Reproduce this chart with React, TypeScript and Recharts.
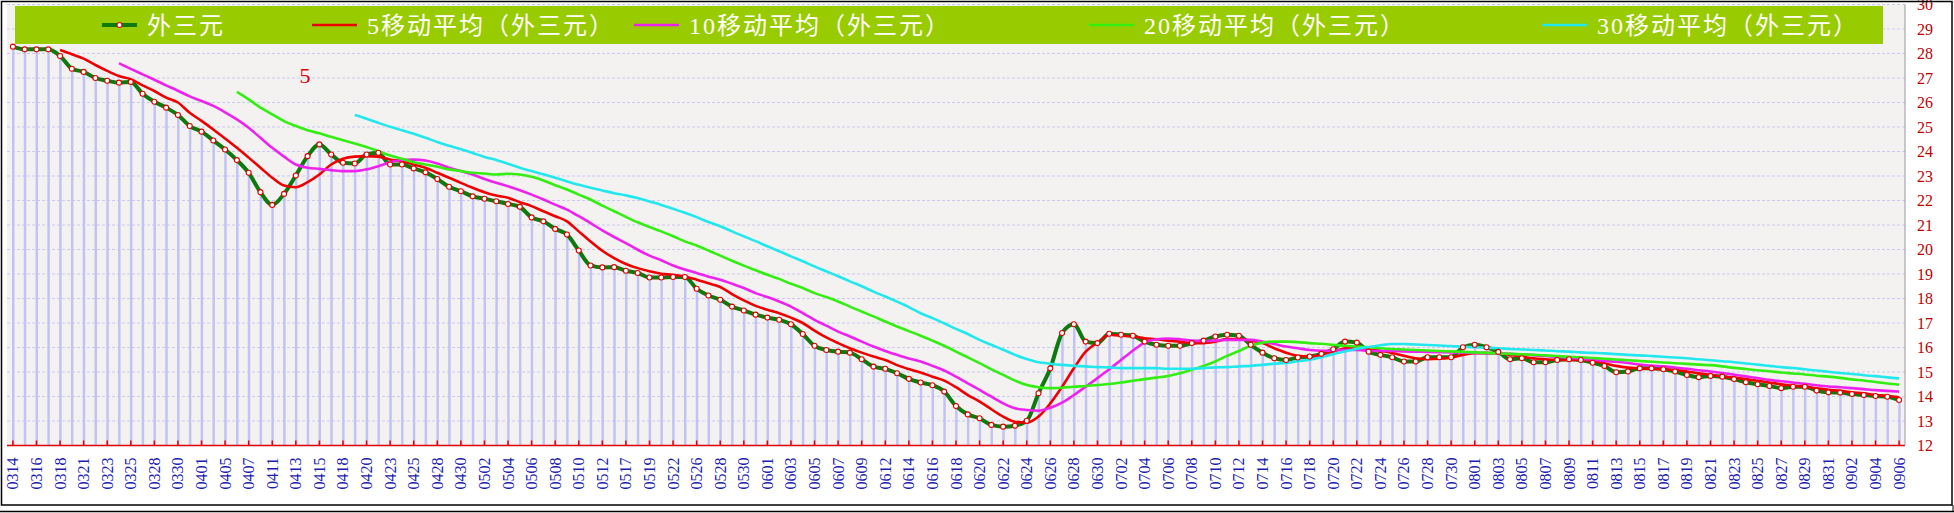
import { ComposedChart, Line, Bar, XAxis, YAxis, CartesianGrid } from 'recharts'

// draw dates (only every other one is printed on the axis)
const dates = [
  '0314', '0315', '0316', '0317', '0318', '0320', '0321', '0322', '0323', '0324',
  '0325', '0327', '0328', '0329', '0330', '0331', '0401', '0403', '0405', '0406',
  '0407', '0410', '0411', '0412', '0413', '0414', '0415', '0417', '0418', '0419',
  '0420', '0422', '0423', '0424', '0425', '0427', '0428', '0429', '0430', '0501',
  '0502', '0503', '0504', '0505', '0506', '0507', '0508', '0509', '0510', '0511',
  '0512', '0515', '0517', '0518', '0519', '0521', '0522', '0524', '0526', '0527',
  '0528', '0529', '0530', '0531', '0601', '0602', '0603', '0604', '0605', '0606',
  '0607', '0608', '0609', '0610', '0612', '0613', '0614', '0615', '0616', '0617',
  '0618', '0619', '0620', '0621', '0622', '0623', '0624', '0625', '0626', '0627',
  '0628', '0629', '0630', '0701', '0702', '0703', '0704', '0705', '0706', '0707',
  '0708', '0709', '0710', '0711', '0712', '0713', '0714', '0715', '0716', '0717',
  '0718', '0719', '0720', '0721', '0722', '0723', '0724', '0725', '0726', '0727',
  '0728', '0729', '0730', '0731', '0801', '0802', '0803', '0804', '0805', '0806',
  '0807', '0808', '0809', '0810', '0811', '0812', '0813', '0814', '0815', '0816',
  '0817', '0818', '0819', '0820', '0821', '0822', '0823', '0824', '0825', '0826',
  '0827', '0828', '0829', '0830', '0831', '0901', '0902', '0903', '0904', '0905',
  '0906'
]

// 外三元
const waiSanYuan = [
  28.28, 28.17, 28.17, 28.17, 27.90, 27.38, 27.25, 27.00, 26.89, 26.81,
  26.84, 26.36, 26.03, 25.79, 25.49, 25.04, 24.81, 24.45, 24.08, 23.65,
  23.13, 22.34, 21.82, 22.27, 23.02, 23.81, 24.29, 23.88, 23.54, 23.51,
  23.88, 23.95, 23.47, 23.47, 23.31, 23.15, 22.88, 22.56, 22.38, 22.17,
  22.07, 21.97, 21.86, 21.74, 21.31, 21.15, 20.84, 20.61, 19.96, 19.35,
  19.27, 19.28, 19.13, 19.04, 18.86, 18.86, 18.88, 18.88, 18.40, 18.12,
  17.95, 17.67, 17.51, 17.34, 17.22, 17.13, 16.95, 16.55, 16.07, 15.90,
  15.83, 15.79, 15.52, 15.22, 15.13, 14.95, 14.72, 14.57, 14.46, 14.20,
  13.61, 13.27, 13.11, 12.84, 12.77, 12.81, 13.01, 14.13, 15.15, 16.59,
  16.95, 16.24, 16.18, 16.56, 16.52, 16.48, 16.24, 16.11, 16.07, 16.07,
  16.18, 16.28, 16.45, 16.52, 16.48, 16.11, 15.79, 15.56, 15.49, 15.59,
  15.63, 15.74, 15.93, 16.24, 16.20, 15.83, 15.70, 15.60, 15.43, 15.43,
  15.60, 15.60, 15.60, 16.01, 16.11, 16.01, 15.82, 15.52, 15.56, 15.40,
  15.40, 15.49, 15.52, 15.49, 15.38, 15.25, 14.99, 15.02, 15.15, 15.15,
  15.11, 15.02, 14.88, 14.79, 14.84, 14.81, 14.71, 14.58, 14.50, 14.43,
  14.34, 14.40, 14.40, 14.24, 14.17, 14.16, 14.10, 14.06, 14.02, 13.99,
  13.86
]

// moving averages; each starts at its own draw
const MA5_FROM = 4
const ma5 = [
  28.14, 27.97, 27.79, 27.53, 27.29, 27.08,
  26.95, 26.70, 26.47, 26.20, 26.00, 25.58, 25.25, 24.90, 24.53, 24.15,
  23.75, 23.34, 22.93, 22.61, 22.54, 22.75, 23.06, 23.47, 23.70, 23.79,
  23.81, 23.79, 23.67, 23.60, 23.47, 23.34, 23.13, 22.93, 22.72, 22.52,
  22.34, 22.20, 22.11, 21.93, 21.77, 21.56, 21.36, 21.15, 20.74, 20.33,
  19.95, 19.65, 19.41, 19.24, 19.11, 19.01, 18.97, 18.90, 18.77, 18.62,
  18.47, 18.18, 17.92, 17.70, 17.54, 17.40, 17.22, 17.00, 16.69, 16.41,
  16.18, 15.97, 15.79, 15.63, 15.49, 15.28, 15.12, 14.98, 14.81, 14.65,
  14.38, 14.06, 13.79, 13.48, 13.18, 12.97, 12.93, 13.18, 13.72, 14.40,
  15.15, 15.83, 16.20, 16.52, 16.48, 16.45, 16.38, 16.34, 16.28, 16.24,
  16.18, 16.18, 16.24, 16.34, 16.34, 16.28, 16.18, 15.97, 15.79, 15.66,
  15.63, 15.70, 15.83, 15.97, 16.00, 15.93, 15.87, 15.78, 15.66, 15.56,
  15.52, 15.54, 15.59, 15.70, 15.77, 15.77, 15.77, 15.70, 15.63, 15.56,
  15.52, 15.49, 15.49, 15.49, 15.45, 15.36, 15.25, 15.18, 15.15, 15.13,
  15.11, 15.09, 15.02, 14.95, 14.88, 14.81, 14.77, 14.71, 14.64, 14.57,
  14.50, 14.44, 14.40, 14.34, 14.27, 14.23, 14.17, 14.13, 14.06, 14.02,
  13.97
]

const MA10_FROM = 9
const ma10 = [
  27.60,
  27.37, 27.15, 26.93, 26.70, 26.48, 26.25, 26.06, 25.86, 25.60, 25.31,
  24.97, 24.56, 24.15, 23.79, 23.47, 23.34, 23.29, 23.24, 23.20, 23.20,
  23.27, 23.40, 23.56, 23.65, 23.67, 23.63, 23.51, 23.34, 23.20, 23.06,
  22.88, 22.72, 22.58, 22.42, 22.24, 22.04, 21.83, 21.63, 21.36, 21.08,
  20.78, 20.51, 20.26, 19.99, 19.75, 19.56, 19.35, 19.18, 19.04, 18.89,
  18.77, 18.60, 18.43, 18.22, 18.06, 17.88, 17.67, 17.40, 17.13, 16.89,
  16.65, 16.45, 16.24, 16.04, 15.86, 15.70, 15.55, 15.43, 15.25, 15.06,
  14.81, 14.54, 14.27, 13.99, 13.72, 13.52, 13.45, 13.42, 13.54, 13.75,
  14.06, 14.40, 14.75, 15.11, 15.49, 15.87, 16.20, 16.34, 16.37, 16.34,
  16.28, 16.27, 16.28, 16.31, 16.31, 16.31, 16.24, 16.14, 16.04, 15.97,
  15.90, 15.87, 15.87, 15.90, 15.90, 15.87, 15.86, 15.86, 15.84, 15.83,
  15.82, 15.81, 15.80, 15.79, 15.78, 15.77, 15.76, 15.74, 15.72, 15.69,
  15.65, 15.62, 15.58, 15.54, 15.50, 15.45, 15.42, 15.37, 15.30, 15.26,
  15.23, 15.18, 15.13, 15.07, 15.02, 14.96, 14.89, 14.82, 14.75, 14.68,
  14.62, 14.57, 14.52, 14.46, 14.41, 14.38, 14.34, 14.30, 14.26, 14.23,
  14.20
]

const MA20_FROM = 19
const ma20 = [
  26.43,
  26.13, 25.79, 25.52, 25.24, 25.04, 24.87, 24.74, 24.60, 24.46, 24.33,
  24.18, 24.01, 23.84, 23.70, 23.56, 23.47, 23.38, 23.27, 23.20, 23.13,
  23.10, 23.06, 23.09, 23.06, 22.97, 22.82, 22.62, 22.45, 22.24, 22.04,
  21.79, 21.56, 21.33, 21.11, 20.92, 20.74, 20.54, 20.33, 20.16, 19.96,
  19.75, 19.54, 19.34, 19.15, 18.97, 18.80, 18.60, 18.43, 18.22, 18.06,
  17.88, 17.67, 17.47, 17.27, 17.06, 16.86, 16.67, 16.48, 16.28, 16.07,
  15.83, 15.60, 15.36, 15.11, 14.88, 14.65, 14.47, 14.38, 14.34, 14.36,
  14.40, 14.43, 14.47, 14.51, 14.57, 14.64, 14.71, 14.77, 14.84, 14.95,
  15.09, 15.25, 15.43, 15.66, 15.86, 16.07, 16.20, 16.24, 16.24, 16.22,
  16.18, 16.15, 16.11, 16.07, 16.04, 16.01, 15.97, 15.94, 15.92, 15.90,
  15.88, 15.86, 15.84, 15.82, 15.80, 15.78, 15.76, 15.74, 15.72, 15.70,
  15.68, 15.65, 15.62, 15.60, 15.57, 15.54, 15.51, 15.48, 15.45, 15.42,
  15.39, 15.36, 15.33, 15.30, 15.28, 15.23, 15.17, 15.12, 15.07, 15.03,
  14.98, 14.94, 14.90, 14.85, 14.81, 14.76, 14.70, 14.65, 14.59, 14.53,
  14.48
]

const MA30_FROM = 29
const ma30 = [
  25.49,
  25.34, 25.17, 25.01, 24.87, 24.72, 24.56, 24.39, 24.23, 24.09, 23.94,
  23.78, 23.65, 23.50, 23.34, 23.20, 23.07, 22.93, 22.78, 22.64, 22.52,
  22.41, 22.30, 22.21, 22.10, 21.96, 21.82, 21.66, 21.50, 21.32, 21.12,
  20.95, 20.74, 20.54, 20.34, 20.13, 19.93, 19.72, 19.52, 19.31, 19.11,
  18.91, 18.70, 18.50, 18.28, 18.08, 17.87, 17.65, 17.40, 17.20, 16.99,
  16.76, 16.55, 16.31, 16.11, 15.91, 15.70, 15.53, 15.40, 15.34, 15.29,
  15.25, 15.23, 15.20, 15.19, 15.16, 15.16, 15.16, 15.16, 15.13, 15.13,
  15.13, 15.16, 15.19, 15.20, 15.23, 15.25, 15.29, 15.34, 15.37, 15.44,
  15.50, 15.60, 15.73, 15.84, 15.95, 16.02, 16.09, 16.14, 16.14, 16.12,
  16.10, 16.08, 16.06, 16.03, 16.01, 15.99, 15.97, 15.94, 15.92, 15.90,
  15.88, 15.85, 15.83, 15.80, 15.78, 15.76, 15.73, 15.70, 15.68, 15.65,
  15.62, 15.59, 15.56, 15.52, 15.48, 15.44, 15.40, 15.35, 15.30, 15.25,
  15.20, 15.16, 15.11, 15.06, 15.01, 14.96, 14.92, 14.87, 14.83, 14.78,
  14.74
]

const yTicks = [12, 13, 14, 15, 16, 17, 18, 19, 20, 21, 22, 23, 24, 25, 26, 27, 28, 29, 30]

const pick = (arr: number[], from: number, i: number) => (i >= from ? arr[i - from] : null)

const rows = dates.map((d, i) => ({
  date: d,
  v: waiSanYuan[i],
  ma5: pick(ma5, MA5_FROM, i),
  ma10: pick(ma10, MA10_FROM, i),
  ma20: pick(ma20, MA20_FROM, i),
  ma30: pick(ma30, MA30_FROM, i)
}))

const legendItems = [
  { name: '外三元', color: '#0d7a0d', width: 4, x0: 102, x1: 137, tx: 147, dot: true },
  { name: '5移动平均（外三元）', color: '#ee0000', width: 2.6, x0: 312, x1: 357, tx: 367 },
  { name: '10移动平均（外三元）', color: '#ee22ee', width: 2.6, x0: 634, x1: 679, tx: 689 },
  { name: '20移动平均（外三元）', color: '#33ee11', width: 2.6, x0: 1089, x1: 1134, tx: 1144 },
  { name: '30移动平均（外三元）', color: '#22e8ee', width: 2.6, x0: 1542, x1: 1587, tx: 1597 }
]

const serif = "'Liberation Serif', 'Noto Sans CJK SC', serif"

const XTick = (props: any) => {
  const { x, y, payload } = props
  return (
    <g>
      <line x1={x} y1={y} x2={x} y2={y - 5} stroke="#e00000" strokeWidth={1.5} />
      <text
        x={x}
        y={y + 12}
        transform={`rotate(-90 ${x} ${y + 12})`}
        textAnchor="end"
        dominantBaseline="central"
        fill="#1c1cb0"
        fontSize={16}
        fontFamily={serif}
      >
        {payload.value}
      </text>
    </g>
  )
}

const RightTick = (props: any) => {
  const { x, y, payload } = props
  return (
    <text x={x + 12} y={y} dominantBaseline="central" fill="#c00000" fontSize={16} fontFamily={serif}>
      {payload.value}
    </text>
  )
}

const LeftTick = (props: any) => {
  const { x, y } = props
  return <line x1={x} y1={y} x2={x + 6} y2={y} stroke="#000" strokeWidth={1} />
}

export default function App() {
  return (
    <div style={{ position: 'absolute', left: 0, top: 0, width: 1954, height: 513, background: '#fff' }}>
      <ComposedChart
        width={1954}
        height={513}
        data={rows}
        margin={{ top: 4.5, right: 0, bottom: 0, left: 7 }}
      >
        <CartesianGrid
          yAxisId="r"
          vertical={false}
          fill="#f4f2f1"
          stroke="#cacaf0"
          strokeDasharray="3 2"
        />
        <XAxis
          dataKey="date"
          interval={1}
          height={67.5}
          axisLine={{ stroke: '#e00000', strokeWidth: 1.5 }}
          tickLine={false}
          tickSize={0}
          tickMargin={0}
          tick={<XTick />}
        />
        <YAxis
          yAxisId="r"
          orientation="right"
          domain={[12, 30]}
          ticks={yTicks}
          interval={0}
          width={49}
          axisLine={{ stroke: '#999' }}
          tickLine={false}
          tickSize={0}
          tickMargin={0}
          tick={<RightTick />}
        />
        <YAxis
          yAxisId="l"
          orientation="left"
          domain={[12, 30]}
          ticks={yTicks}
          interval={0}
          width={0}
          axisLine={{ stroke: '#000', strokeWidth: 1.5 }}
          tickLine={false}
          tickSize={0}
          tickMargin={0}
          tick={<LeftTick />}
        />
        <Bar yAxisId="r" dataKey="v" barSize={2.5} fill="#c2c2f5" isAnimationActive={false} />
        <Line
          yAxisId="r"
          type="monotone"
          dataKey="v"
          stroke="#0d7a0d"
          strokeWidth={4}
          dot={{ r: 2.5, fill: '#fff', stroke: '#e00000', strokeWidth: 1.1 }}
          isAnimationActive={false}
        />
        <Line yAxisId="r" type="monotone" dataKey="ma5" stroke="#ee0000" strokeWidth={2.6} dot={false} isAnimationActive={false} />
        <Line yAxisId="r" type="monotone" dataKey="ma10" stroke="#ee22ee" strokeWidth={2.6} dot={false} isAnimationActive={false} />
        <Line yAxisId="r" type="monotone" dataKey="ma20" stroke="#33ee11" strokeWidth={2.6} dot={false} isAnimationActive={false} />
        <Line yAxisId="r" type="monotone" dataKey="ma30" stroke="#22e8ee" strokeWidth={2.6} dot={false} isAnimationActive={false} />
      </ComposedChart>

      <svg
        width={1954}
        height={513}
        style={{ position: 'absolute', left: 0, top: 0, pointerEvents: 'none' }}
      >
        <rect x={15} y={6} width={1868} height={38} fill="#99cc00" />
        {legendItems.map((it) => (
          <g key={it.name}>
            <line x1={it.x0} y1={25} x2={it.x1} y2={25} stroke={it.color} strokeWidth={it.width} />
            {it.dot && <circle cx={(it.x0 + it.x1) / 2} cy={25} r={2.5} fill="#fff" stroke="#e00000" strokeWidth={1.1} />}
            <text x={it.tx} y={34} fill="#fff" fontSize={24} letterSpacing={2} fontFamily={serif}>
              {it.name}
            </text>
          </g>
        ))}
        <text x={305} y={83} textAnchor="middle" fill="#e00000" fontSize={22} fontFamily={serif}>
          5
        </text>
        <rect x={1.5} y={1.5} width={1950.5} height={503.5} fill="none" stroke="#000" strokeWidth={1.5} />
        <line x1={0} y1={511.5} x2={1954} y2={511.5} stroke="#000" strokeWidth={1.5} />
        <line x1={1953} y1={505} x2={1953} y2={512} stroke="#000" strokeWidth={1} />
      </svg>
    </div>
  )
}
